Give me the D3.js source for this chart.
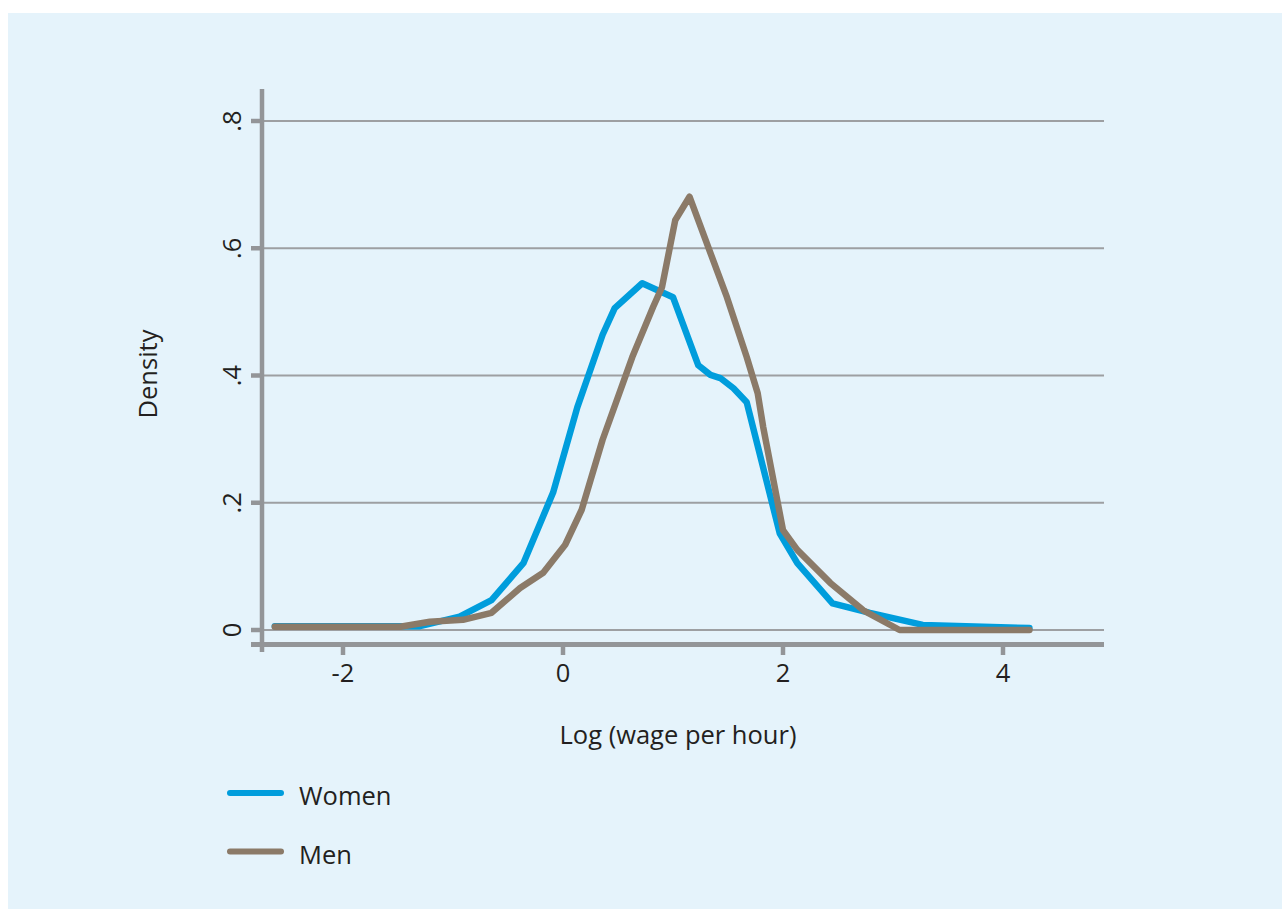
<!DOCTYPE html>
<html>
<head>
<meta charset="utf-8">
<script src="https://cdn.jsdelivr.net/npm/d3@7"></script>
<style>
  body { margin: 0; background: #ffffff; }
  svg { display: block; }
  text { font-family: "Open Sans", sans-serif; fill: #231f20; }
</style>
</head>
<body>
<svg id="svg" width="1282" height="909"></svg>
<script>
// log wage grid and kernel density
const womenX = [-2.62, -1.48, -1.30, -0.94, -0.65, -0.36, -0.09, 0.13, 0.36, 0.47, 0.72, 1.00, 1.23, 1.34, 1.43, 1.55, 1.67, 1.97, 2.13, 2.45, 2.79, 3.27, 4.24];
const womenY = [0.006, 0.006, 0.006, 0.021, 0.047, 0.105, 0.216, 0.350, 0.464, 0.506, 0.545, 0.523, 0.416, 0.401, 0.396, 0.380, 0.358, 0.152, 0.105, 0.042, 0.027, 0.008, 0.003];

const menX = [-2.62, -1.48, -1.21, -0.91, -0.65, -0.39, -0.18, 0.02, 0.17, 0.36, 0.63, 0.82, 0.90, 1.02, 1.15, 1.49, 1.67, 1.77, 1.82, 2.00, 2.13, 2.43, 2.73, 3.06, 4.24];
const menY = [0.005, 0.005, 0.013, 0.016, 0.027, 0.066, 0.090, 0.134, 0.189, 0.299, 0.429, 0.508, 0.539, 0.644, 0.681, 0.523, 0.429, 0.372, 0.319, 0.157, 0.126, 0.074, 0.031, 0.0, 0.0];

const xTicks = [-2, 0, 2, 4];
const yTicks = [0, 0.2, 0.4, 0.6, 0.8];
const yTickLabels = ["0", ".2", ".4", ".6", ".8"];

const seriesNames = ["Women", "Men"];
const seriesColors = ["#009ddc", "#8b7a68"];

const axisColor = "#939598";
const gridColor = "#9d9fa2";

const svg = d3.select("#svg");

// panel background
svg.append("rect")
  .attr("x", 8).attr("y", 13)
  .attr("width", 1282 - 8).attr("height", 909 - 13)
  .attr("fill", "#e5f3fb");

const x = d3.scaleLinear().domain([-2, 4]).range([343, 1003]);
const y = d3.scaleLinear().domain([0, 0.8]).range([630, 121]);

const plotLeft = 262, plotRight = 1104;

// gridlines
svg.append("g")
  .selectAll("line")
  .data(yTicks)
  .join("line")
  .attr("x1", plotLeft).attr("x2", plotRight)
  .attr("y1", d => y(d)).attr("y2", d => y(d))
  .attr("stroke", gridColor)
  .attr("stroke-width", 2);

// y axis
svg.append("line")
  .attr("x1", plotLeft).attr("x2", plotLeft)
  .attr("y1", 89).attr("y2", 652)
  .attr("stroke", axisColor).attr("stroke-width", 4.5);

svg.append("g")
  .selectAll("line")
  .data(yTicks)
  .join("line")
  .attr("x1", 251).attr("x2", plotLeft)
  .attr("y1", d => y(d)).attr("y2", d => y(d))
  .attr("stroke", axisColor).attr("stroke-width", 4.5);

svg.append("g")
  .selectAll("text")
  .data(yTicks)
  .join("text")
  .attr("transform", d => `translate(241, ${y(d)}) rotate(-90)`)
  .attr("text-anchor", "middle")
  .attr("font-size", 25.5)
  .text((d, i) => yTickLabels[i]);

svg.append("text")
  .attr("transform", "translate(157, 374) rotate(-90)")
  .attr("text-anchor", "middle")
  .attr("font-size", 25.5)
  .text("Density");

// x axis
svg.append("line")
  .attr("x1", 251).attr("x2", plotRight)
  .attr("y1", 644.5).attr("y2", 644.5)
  .attr("stroke", axisColor).attr("stroke-width", 5);

svg.append("g")
  .selectAll("line")
  .data(xTicks)
  .join("line")
  .attr("x1", d => x(d)).attr("x2", d => x(d))
  .attr("y1", 644).attr("y2", 655)
  .attr("stroke", axisColor).attr("stroke-width", 4.5);

svg.append("g")
  .selectAll("text")
  .data(xTicks)
  .join("text")
  .attr("x", d => x(d))
  .attr("y", 682)
  .attr("text-anchor", "middle")
  .attr("font-size", 25.5)
  .text(d => d < 0 ? "-" + Math.abs(d) : d);

svg.append("text")
  .attr("x", 678).attr("y", 744)
  .attr("text-anchor", "middle")
  .attr("font-size", 25.5)
  .text("Log (wage per hour)");

// density curves
const line = d3.line().x(d => x(d[0])).y(d => y(d[1]));
const series = [
  d3.zip(womenX, womenY),
  d3.zip(menX, menY)
];

svg.append("g")
  .selectAll("path")
  .data(series)
  .join("path")
  .attr("d", line)
  .attr("fill", "none")
  .attr("stroke", (d, i) => seriesColors[i])
  .attr("stroke-width", 6.5)
  .attr("stroke-linejoin", "round")
  .attr("stroke-linecap", "round");

// legend
const legend = svg.append("g")
  .selectAll("g")
  .data(seriesNames)
  .join("g")
  .attr("transform", (d, i) => `translate(0, ${793 + i * 58.5})`);

legend.append("line")
  .attr("x1", 230).attr("x2", 281)
  .attr("stroke", (d, i) => seriesColors[i])
  .attr("stroke-width", 6)
  .attr("stroke-linecap", "round");

legend.append("text")
  .attr("x", 299).attr("y", 12)
  .attr("font-size", 25.5)
  .text(d => d);
</script>
</body>
</html>
